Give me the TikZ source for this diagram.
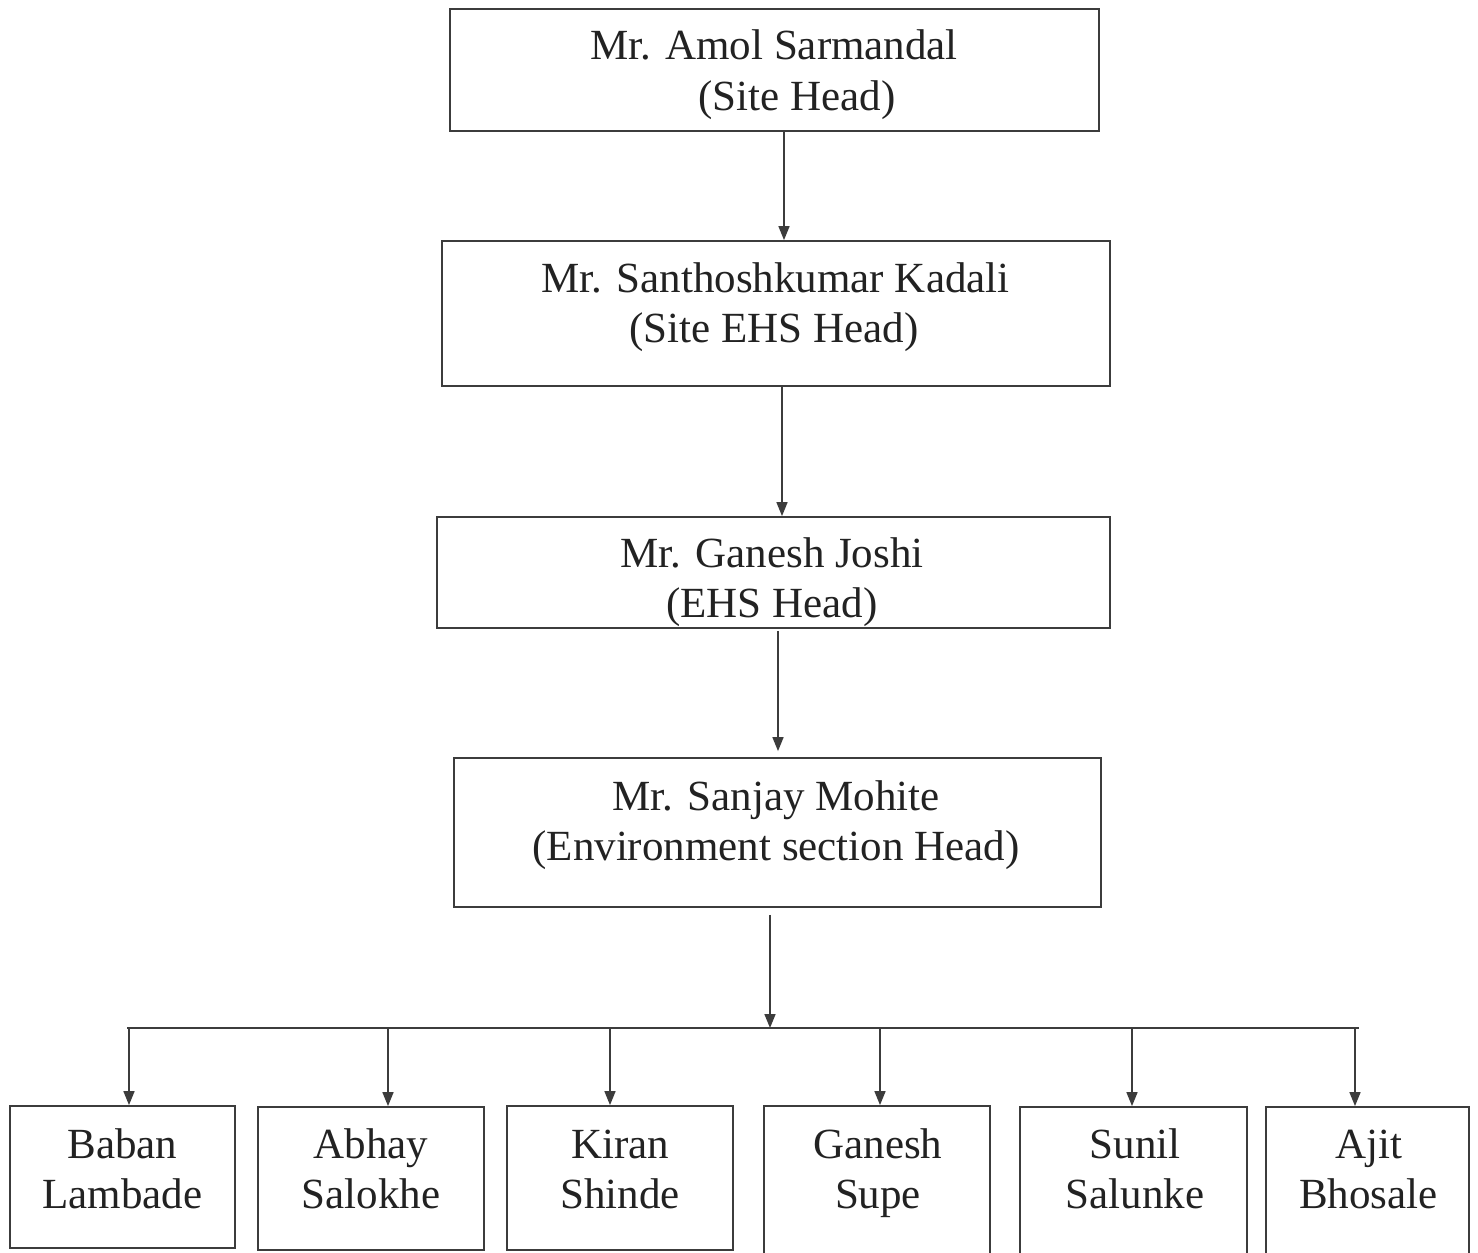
\documentclass[tikz,border=0pt]{standalone}
\usepackage{fontspec}
\setmainfont{Liberation Serif}
\usetikzlibrary{arrows.meta}
\definecolor{ink}{HTML}{222222}
\definecolor{linec}{HTML}{3C3C3C}
\begin{document}
\begin{tikzpicture}[x=1pt,y=-1pt,
  box/.style={draw=linec, line width=1.8pt, rectangle, inner sep=0pt},
  txt/.style={anchor=base, inner sep=0pt, text=ink, font=\fontsize{43}{49}\selectfont},
  arr/.style={draw=linec, line width=1.6pt, -{Triangle[width=11pt,length=14pt]}},
  bus/.style={draw=linec, line width=1.8pt}]
\useasboundingbox (0,0) rectangle (1478,1253);
\fill[white] (0,0) rectangle (1478,1253);
% top chain boxes
\node[box, minimum width=649pt, minimum height=122pt] (b1) at (774.5,70) {};
\node[box, minimum width=668pt, minimum height=145pt] (b2) at (776,313.5) {};
\node[box, minimum width=673pt, minimum height=111pt] (b3) at (773.5,572.5) {};
\node[box, minimum width=647pt, minimum height=149pt] (b4) at (777.5,832.5) {};
% texts
\node[txt] (t1a) at (774,59) {Mr. Amol Sarmandal};
\node[txt] (t1b) at (797,110) {(Site Head)};
\node[txt] (t2a) at (775.5,292) {Mr. Santhoshkumar Kadali};
\node[txt] (t2b) at (774,342) {(Site EHS Head)};
\node[txt] (t3a) at (772,567) {Mr. Ganesh Joshi};
\node[txt] (t3b) at (772,617) {(EHS Head)};
\node[txt] (t4a) at (776,810) {Mr. Sanjay Mohite};
\node[txt] (t4b) at (776,860) {(Environment section Head)};
% bottom boxes
\node[box, minimum width=225pt, minimum height=142pt] (bb1) at (122.5,1177) {};
\node[box, minimum width=226pt, minimum height=143pt] (bb2) at (371,1178.5) {};
\node[box, minimum width=226pt, minimum height=144pt] (bb3) at (620,1178) {};
\node[box, minimum width=226pt, minimum height=159pt] (bb4) at (877,1185.5) {};
\node[box, minimum width=227pt, minimum height=158pt] (bb5) at (1133.5,1186) {};
\node[box, minimum width=203pt, minimum height=158pt] (bb6) at (1367.5,1186) {};
\node[txt] (s1a) at (122.5,1158) {Baban};
\node[txt] (s1b) at (122.5,1208) {Lambade};
\node[txt] (s2a) at (371,1158) {Abhay};
\node[txt] (s2b) at (371,1208) {Salokhe};
\node[txt] (s3a) at (620,1158) {Kiran};
\node[txt] (s3b) at (620,1208) {Shinde};
\node[txt] (s4a) at (878,1158) {Ganesh};
\node[txt] (s4b) at (878,1208) {Supe};
\node[txt] (s5a) at (1135,1158) {Sunil};
\node[txt] (s5b) at (1135,1208) {Salunke};
\node[txt] (s6a) at (1368.5,1158) {Ajit};
\node[txt] (s6b) at (1368.5,1208) {Bhosale};
% connector columns
\coordinate (x1) at (784,0);
\coordinate (x2) at (782,0);
\coordinate (x3) at (778,0);
\coordinate (busIn) at (770,1028);
\coordinate (busL) at (127,1028);
\coordinate (busR) at (1359,1028);
\coordinate (c1) at (129,1028);
\coordinate (c2) at (388,1028);
\coordinate (c3) at (610,1028);
\coordinate (c4) at (880,1028);
\coordinate (c5) at (1132,1028);
\coordinate (c6) at (1355,1028);
% chain arrows
\draw[arr] (b1.south -| x1) -- (b2.north -| x1);
\draw[arr] (b2.south -| x2) -- (b3.north -| x2);
\draw[arr, shorten <=2pt, shorten >=6pt] (b3.south -| x3) -- (b4.north -| x3);
\draw[arr, shorten <=7pt] (b4.south -| busIn) -- (busIn);
% bus
\draw[bus] (busL) -- (busR);
\draw[arr] (c1) -- (c1 |- bb1.north);
\draw[arr] (c2) -- (c2 |- bb2.north);
\draw[arr] (c3) -- (c3 |- bb3.north);
\draw[arr] (c4) -- (c4 |- bb4.north);
\draw[arr] (c5) -- (c5 |- bb5.north);
\draw[arr] (c6) -- (c6 |- bb6.north);
\end{tikzpicture}
\end{document}
